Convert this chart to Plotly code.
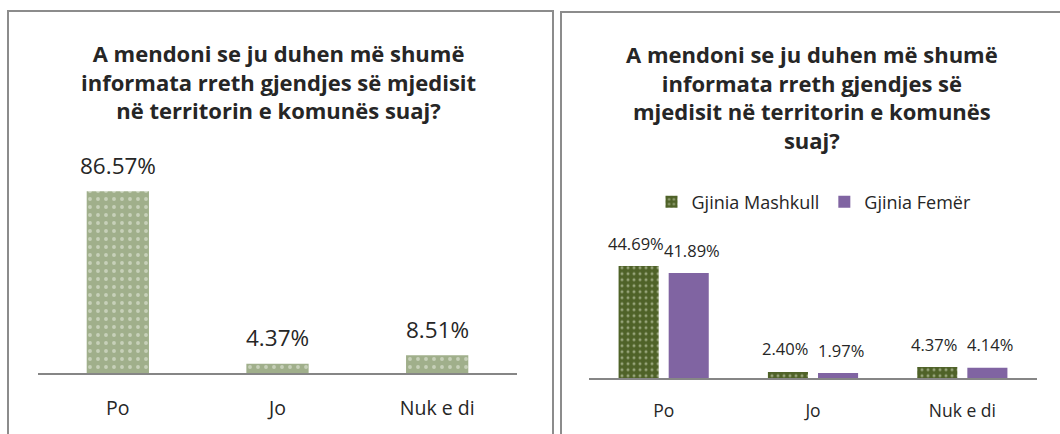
import plotly.graph_objects as go

categories = ["Po", "Jo", "Nuk e di"]
total_values = [86.57, 4.37, 8.51]
male_values = [44.69, 2.40, 4.37]
female_values = [41.89, 1.97, 4.14]
series_names = ["Gjinia Mashkull", "Gjinia Femër"]
title_left = "A mendoni se ju duhen më shumë<br>informata rreth gjendjes së mjedisit<br>në territorin e komunës suaj?"
title_right = "A mendoni se ju duhen më shumë<br>informata rreth gjendjes së<br>mjedisit në territorin e komunës<br>suaj?"

W, H = 1060, 434
FONT = "Open Sans"
TXT = "#262626"

def px(xp):
    return xp / W

def py(yp):
    return 1 - yp / H

fig = go.Figure()

fig.add_trace(go.Bar(
    x=categories, y=total_values, xaxis="x", yaxis="y", showlegend=False,
    marker=dict(color="#a3b28f", line=dict(width=0),
                pattern=dict(shape=".", fgcolor="#eef1e8", bgcolor="#a0af8b", size=8, solidity=0.18)),
    width=0.39,
))
fig.add_trace(go.Bar(
    x=categories, y=male_values, xaxis="x2", yaxis="y2", name=series_names[0],
    marker=dict(color="#4f6228", line=dict(width=0),
                pattern=dict(shape=".", fgcolor="#dfe6cc", bgcolor="#4f6228", size=6, solidity=0.2)),
    offsetgroup="m",
))
fig.add_trace(go.Bar(
    x=categories, y=female_values, xaxis="x2", yaxis="y2", name=series_names[1],
    marker=dict(color="#8064a2", line=dict(width=0)),
    offsetgroup="f",
))

annotations = []
for c, v in zip(categories, total_values):
    annotations.append(dict(x=c, y=v, xref="x", yref="y", text=f"{v:.2f}%", showarrow=False,
                            yanchor="middle", yshift=26, font=dict(family=FONT, size=22.5, color=TXT)))
for c, v in zip(categories, male_values):
    annotations.append(dict(x=c, y=v, xref="x2", yref="y2", text=f"{v:.2f}%", showarrow=False,
                            yanchor="middle", yshift=23, xshift=-28, font=dict(family=FONT, size=16.5, color=TXT)))
for c, v in zip(categories, female_values):
    annotations.append(dict(x=c, y=v, xref="x2", yref="y2", text=f"{v:.2f}%", showarrow=False,
                            yanchor="middle", yshift=23, xshift=28, font=dict(family=FONT, size=16.5, color=TXT)))

annotations.append(dict(x=px(278), y=py(81), xref="paper", yref="paper", text=title_left, showarrow=False,
                        xanchor="center", yanchor="middle", align="center",
                        font=dict(family=FONT, size=22, color=TXT, weight="bold")))
annotations.append(dict(x=px(812), y=py(97), xref="paper", yref="paper", text=title_right, showarrow=False,
                        xanchor="center", yanchor="middle", align="center",
                        font=dict(family=FONT, size=22, color=TXT, weight="bold")))

shapes = [
    dict(type="rect", xref="paper", yref="paper", x0=px(8), x1=px(553), y0=py(440), y1=py(11),
         line=dict(color="#8c8c8c", width=2)),
    dict(type="rect", xref="paper", yref="paper", x0=px(561), x1=px(1070), y0=py(440), y1=py(12),
         line=dict(color="#8c8c8c", width=2)),
]

def axis_style(size, ticklen):
    return dict(type="category", showgrid=False, zeroline=False, showline=True,
                linecolor="#868686", linewidth=2, ticks="outside", ticklen=ticklen,
                tickcolor="rgba(0,0,0,0)", tickfont=dict(family=FONT, size=size, color=TXT), fixedrange=True)

fig.update_layout(
    width=W, height=H, margin=dict(l=0, r=0, t=0, b=0),
    paper_bgcolor="white", plot_bgcolor="rgba(0,0,0,0)",
    barmode="group", bargap=0.329, bargroupgap=0.2,
    xaxis=dict(domain=[px(38), px(517)], anchor="y", **axis_style(19.5, 17)),
    yaxis=dict(domain=[py(373), py(163)], range=[0, 100], visible=False, anchor="x"),
    xaxis2=dict(domain=[px(589), px(1037)], anchor="y2", **axis_style(17.5, 16)),
    yaxis2=dict(domain=[py(378), py(252.7)], range=[0, 50], visible=False, anchor="x2"),
    legend=dict(orientation="h", x=px(814), y=py(202), xanchor="center", yanchor="middle",
                font=dict(family=FONT, size=18, color=TXT), itemwidth=30, bgcolor="rgba(0,0,0,0)"),
    annotations=annotations, shapes=shapes,
    showlegend=True,
)

fig.write_html("out.html", config={"displayModeBar": False},
               post_script="document.body.style.margin='0';document.body.style.padding='0';")
